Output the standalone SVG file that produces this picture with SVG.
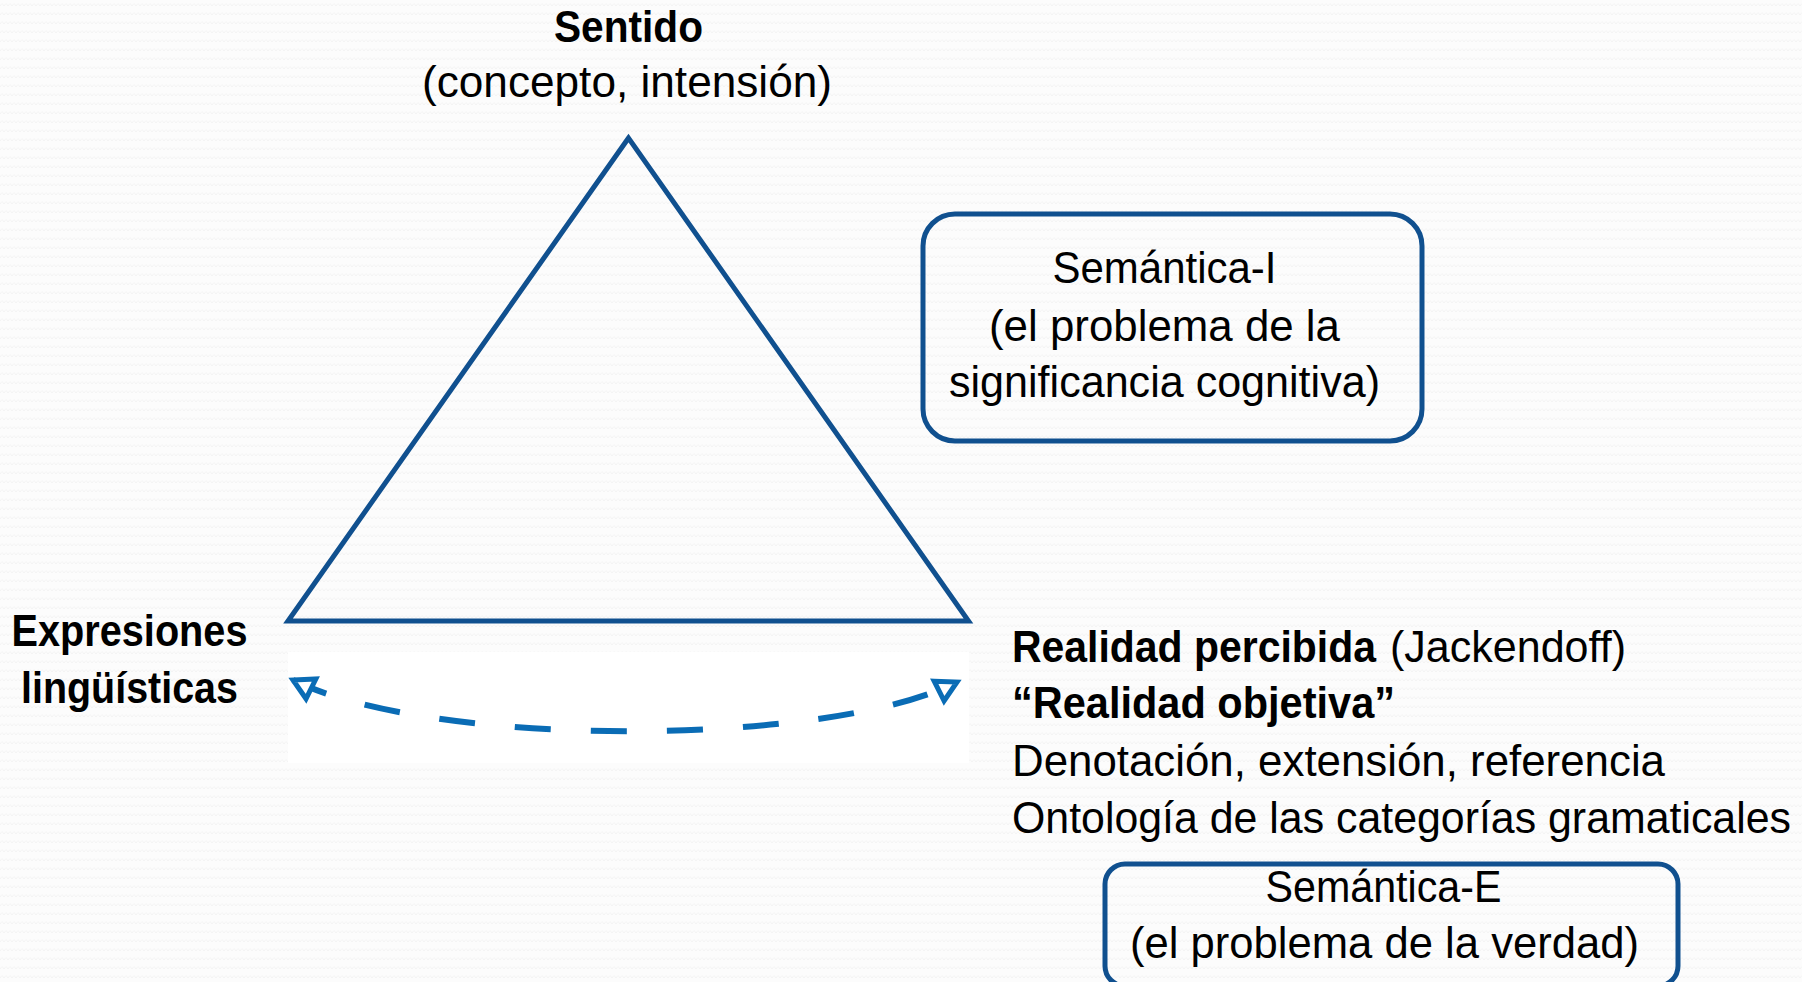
<svg xmlns="http://www.w3.org/2000/svg" width="1802" height="982" viewBox="0 0 1802 982">
  <defs>
    <style>
      text { font-family: "Liberation Sans", Arial, sans-serif; font-size: 43.5px; fill: #000; }
      .b { font-weight: bold; }
      .tri { fill: none; stroke: #10508F; stroke-width: 5; stroke-linejoin: miter; }
      .box { fill: none; stroke: #10508F; stroke-width: 5; }
      .arc { fill: none; stroke: #0A6CB5; stroke-width: 6; stroke-dasharray: 36 40; }
    </style>
    <pattern id="bg" width="8" height="9" patternUnits="userSpaceOnUse">
      <rect width="8" height="9" fill="#FCFCFC"/>
      <polyline points="0,6 2,3.5 4,6 6,3.5 8,6" fill="none" stroke="#F1F1F1" stroke-width="0.8"/>
    </pattern>
    <marker id="open" markerUnits="userSpaceOnUse" markerWidth="30" markerHeight="30" refX="22" refY="12" orient="auto-start-reverse" overflow="visible">
      <path d="M 2 1 L 22 12 L 2 23 Z" fill="#FFFFFF" stroke="#0A6CB5" stroke-width="5" stroke-linejoin="miter"/>
    </marker>
  </defs>

  <rect id="background" width="1802" height="982" fill="url(#bg)"/>
  <rect id="arc-backdrop" x="288" y="652" width="681" height="111" fill="#FFFFFF"/>

  <g id="triangle">
    <polygon class="tri" points="628.5,138 288,621 968.5,621"/>
  </g>

  <g id="node-sentido">
    <text class="b" x="554" y="42" textLength="149" lengthAdjust="spacingAndGlyphs">Sentido</text>
    <text x="422" y="97" textLength="410" lengthAdjust="spacingAndGlyphs">(concepto, intensión)</text>
  </g>

  <g id="node-semantica-i">
    <rect class="box" x="923" y="214" width="499" height="227" rx="32" ry="32"/>
    <text x="1052.5" y="283" textLength="224" lengthAdjust="spacingAndGlyphs">Semántica-I</text>
    <text x="989" y="341" textLength="351" lengthAdjust="spacingAndGlyphs">(el problema de la</text>
    <text x="949" y="397" textLength="431" lengthAdjust="spacingAndGlyphs">significancia cognitiva)</text>
  </g>

  <g id="node-expresiones">
    <text class="b" x="11.5" y="646" textLength="236" lengthAdjust="spacingAndGlyphs">Expresiones</text>
    <text class="b" x="21" y="703" textLength="217" lengthAdjust="spacingAndGlyphs">lingüísticas</text>
  </g>

  <g id="node-realidad">
    <text y="662"><tspan class="b" x="1012" textLength="364" lengthAdjust="spacingAndGlyphs">Realidad percibida</tspan><tspan x="1390" textLength="236" lengthAdjust="spacingAndGlyphs">(Jackendoff)</tspan></text>
    <text class="b" x="1012" y="718" textLength="383" lengthAdjust="spacingAndGlyphs">“Realidad objetiva”</text>
    <text x="1012" y="776" textLength="653" lengthAdjust="spacingAndGlyphs">Denotación, extensión, referencia</text>
    <text x="1012" y="833" textLength="779" lengthAdjust="spacingAndGlyphs">Ontología de las categorías gramaticales</text>
  </g>

  <g id="node-semantica-e">
    <rect class="box" x="1105" y="864" width="573" height="122" rx="20" ry="20"/>
    <text x="1265.5" y="902" textLength="236" lengthAdjust="spacingAndGlyphs">Semántica-E</text>
    <text x="1130" y="958" textLength="509" lengthAdjust="spacingAndGlyphs">(el problema de la verdad)</text>
  </g>

  <g id="connectors">
    <path class="arc" d="M 293 680 C 430 748 826 748 957 682" marker-start="url(#open)" marker-end="url(#open)"/>
  </g>
</svg>
